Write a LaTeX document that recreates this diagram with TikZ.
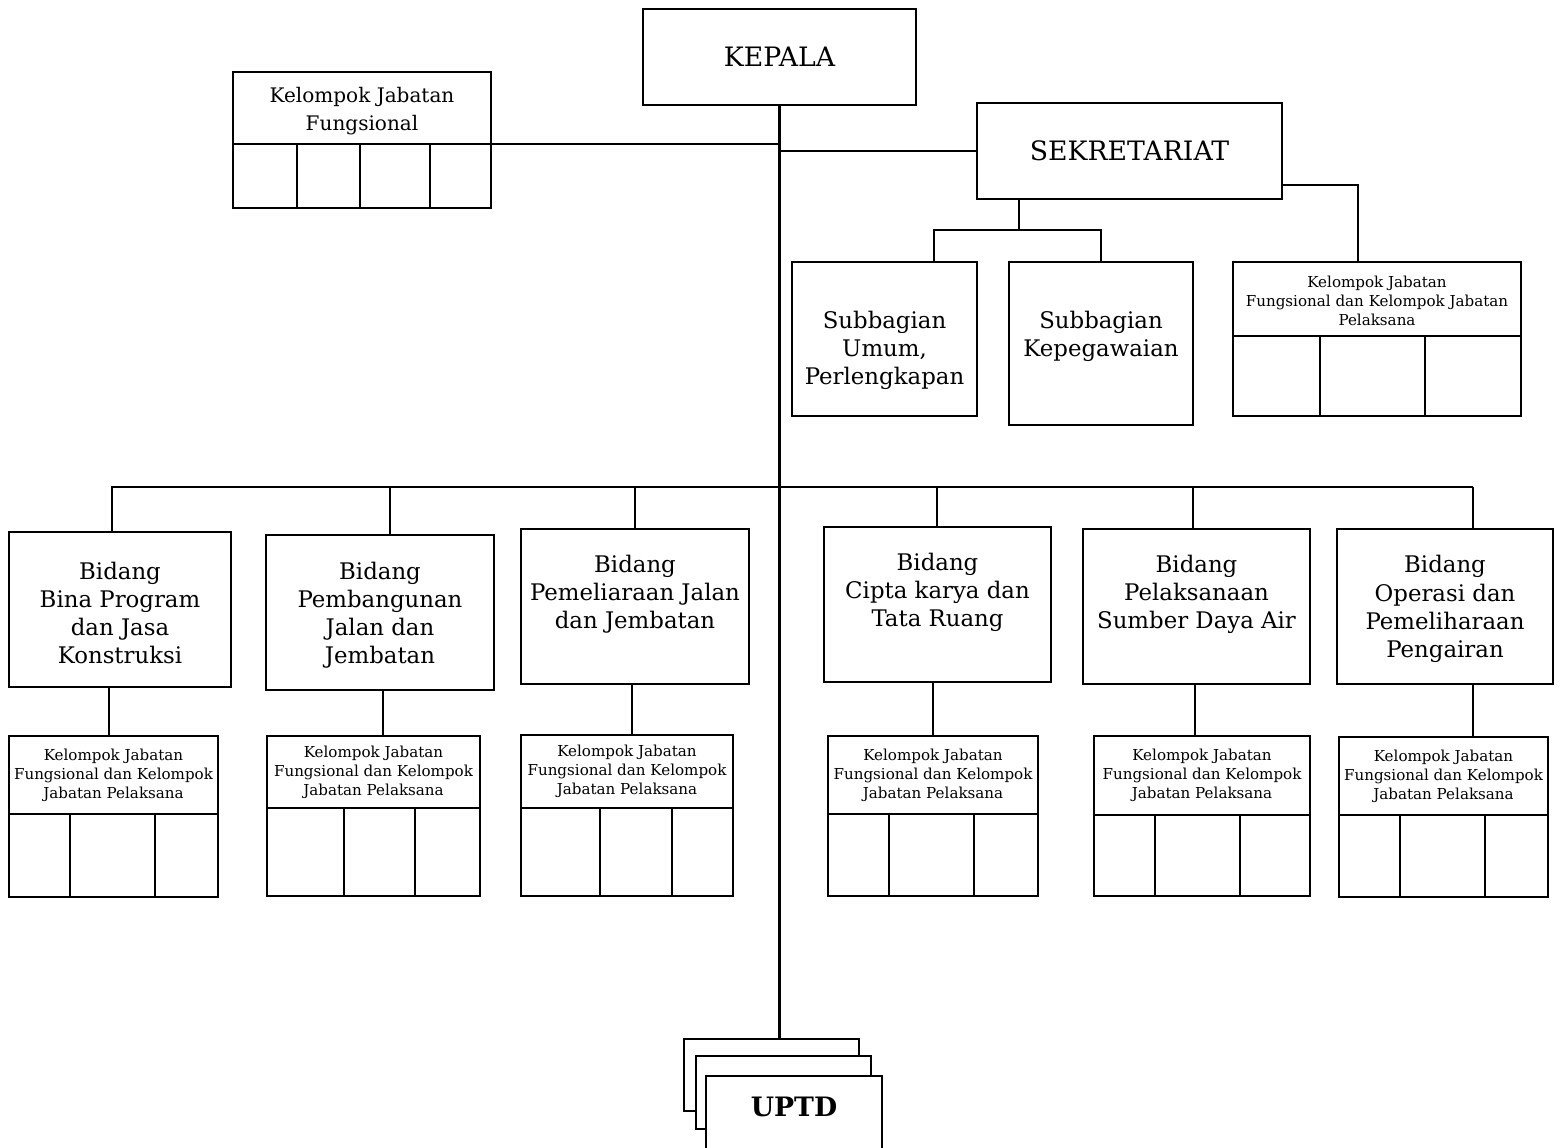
\documentclass[tikz,border=0pt]{standalone}
\usepackage{fontspec}
\setmainfont{DejaVu Serif}
\usetikzlibrary{positioning}

\begin{document}
\begin{tikzpicture}[x=0.1mm,y=-0.1mm,
	box/.style={draw, line width=0.7pt, inner sep=0pt, outer sep=0pt, fill=white},
	line/.style={line width=0.7pt},
	bigtxt/.style={font=\fontsize{7.6}{9}\selectfont},
	midtxt/.style={font=\fontsize{6.5}{8}\selectfont, align=center},
	toptxt/.style={font=\fontsize{5.7}{8}\selectfont, align=center},
	smalltxt/.style={font=\fontsize{4.3}{5.4}\selectfont, align=center}]
			\useasboundingbox (0,0) rectangle (1561,1147);
			%%%	Kepala, Sekretariat
			\node[box, bigtxt, minimum width=27.3mm, minimum height=9.6mm] (kepala) at (779.5,57) {KEPALA};
			\node[box, bigtxt, minimum width=30.5mm, minimum height=9.6mm] (sekr) at (1129.5,151) {SEKRETARIAT};
			%%%	Kelompok Jabatan Fungsional (kiri atas)
			\node[box, minimum width=25.8mm, minimum height=7.2mm,
				label={[toptxt, yshift=-0.3mm]center:Kelompok Jabatan\\Fungsional}] (kjfTh) at (362,108) {};
			\node[box, minimum width=25.8mm, minimum height=6.4mm, below=0pt of kjfTh] (kjfTb) {};
			\foreach \x in {297,360,430}
				\draw[line] (kjfTh.south -| \x,0) -- (kjfTb.south -| \x,0);
			%%%	Subbagian
			\node[box, minimum width=18.5mm, minimum height=15.4mm,
				label={[midtxt, yshift=-1.1mm]center:Subbagian\\Umum,\\Perlengkapan}] (umum) at (884.5,339) {};
			\node[box, minimum width=18.4mm, minimum height=16.3mm,
				label={[midtxt, yshift=0.75mm]center:Subbagian\\Kepegawaian}] (kepeg) at (1101,343.5) {};
			%%%	Kelompok Jabatan Sekretariat
			\node[box, minimum width=28.8mm, minimum height=7.4mm,
				label={[smalltxt, yshift=-0.2mm]center:Kelompok Jabatan\\Fungsional dan Kelompok Jabatan\\Pelaksana}] (kjfSh) at (1377,299) {};
			\node[box, minimum width=28.8mm, minimum height=8mm, below=0pt of kjfSh] (kjfSb) {};
			\foreach \x in {1320,1425}
				\draw[line] (kjfSh.south -| \x,0) -- (kjfSb.south -| \x,0);
			%%%	Bidang
			\node[box, minimum width=22.2mm, minimum height=15.5mm,
				label={[midtxt, yshift=-0.35mm]center:Bidang\\Bina Program\\dan Jasa\\Konstruksi}] (bid1) at (120,609.5) {};
			\node[box, minimum width=22.8mm, minimum height=15.5mm,
				label={[midtxt, yshift=-0.25mm]center:Bidang\\Pembangunan\\Jalan dan\\Jembatan}] (bid2) at (380,612.5) {};
			\node[box, minimum width=22.8mm, minimum height=15.5mm,
				label={[midtxt, yshift=1.25mm]center:Bidang\\Pemeliaraan Jalan\\dan Jembatan}] (bid3) at (635,606.5) {};
			\node[box, minimum width=22.7mm, minimum height=15.5mm,
				label={[midtxt, yshift=1.25mm]center:Bidang\\Cipta karya dan\\Tata Ruang}] (bid4) at (937.5,604.5) {};
			\node[box, minimum width=22.7mm, minimum height=15.5mm,
				label={[midtxt, yshift=1.25mm]center:Bidang\\Pelaksanaan\\Sumber Daya Air}] (bid5) at (1196.5,606.5) {};
			\node[box, minimum width=21.6mm, minimum height=15.5mm,
				label={[midtxt, yshift=-0.25mm]center:Bidang\\Operasi dan\\Pemeliharaan\\Pengairan}] (bid6) at (1445,606.5) {};
			%%%	Kelompok Jabatan tiap Bidang
			\foreach \n/\cx/\w/\hh/\bh/\cy/\va/\vb in {
					1/113.5/20.9/7.8/8.3/775/70/155,
					2/373.5/21.3/7.2/8.8/772/344/415,
					3/627/21.2/7.3/8.8/771.5/600/672,
					4/933/21.0/7.8/8.2/775/889/974,
					5/1202/21.6/7.9/8.1/775.5/1155/1240,
					6/1443.5/20.9/7.8/8.2/776/1400/1485}{
				\node[box, minimum width=\w mm, minimum height=\hh mm,
					label={[smalltxt]center:Kelompok Jabatan\\Fungsional dan Kelompok\\Jabatan Pelaksana}] (kjf\n h) at (\cx,\cy) {};
				\node[box, minimum width=\w mm, minimum height=\bh mm, below=0pt of kjf\n h] (kjf\n b) {};
				\draw[line] (kjf\n h.south -| \va,0) -- (kjf\n b.south -| \va,0);
				\draw[line] (kjf\n h.south -| \vb,0) -- (kjf\n b.south -| \vb,0);
			}
			%%%	UPTD
			\node[box, minimum width=17.5mm, minimum height=7.2mm] (uptdA) at (771.5,1075) {};
			\node[box, minimum width=17.5mm, minimum height=7.3mm] (uptdB) at (783.5,1092.5) {};
			\node[box, minimum width=17.6mm, minimum height=7.8mm,
				label={[font=\fontsize{7.6}{9}\selectfont\bfseries, yshift=0.8mm]center:UPTD}] (uptdC) at (794,1115) {};
			%%%	Garis
			\coordinate (busL) at (111,487);
			\coordinate (busR) at (1473,487);
			\coordinate (sekB) at (1019,230);
			\draw[line] (kepala.south) -- (kepala.south |- uptdA.north);
			\draw[line] (kjfTh.south east) -- (kjfTh.south east -| kepala.south);
			\draw[line] (sekr.west) -- (sekr.west -| kepala.south);
			\draw[line] (sekr.south -| sekB) -- (sekB);
			\draw[line] (umum.north -| 934,0) |- (sekB) -| (kepeg.north);
			\draw[line] ([yshift=-3.4mm]sekr.east) -| (kjfSh.north -| 1358,0);
			\draw[line] (busL) -- (busR);
			\foreach \n/\x in {1/112,2/390,3/635,4/937,5/1193,6/1473}
				\draw[line] (bid\n.north -| \x,0) -- (busL -| \x,0);
			\foreach \n/\x in {1/109,2/383,3/632,4/933,5/1195,6/1473}
				\draw[line] (bid\n.south -| \x,0) -- (kjf\n h.north -| \x,0);
		\end{tikzpicture}
\end{document}
